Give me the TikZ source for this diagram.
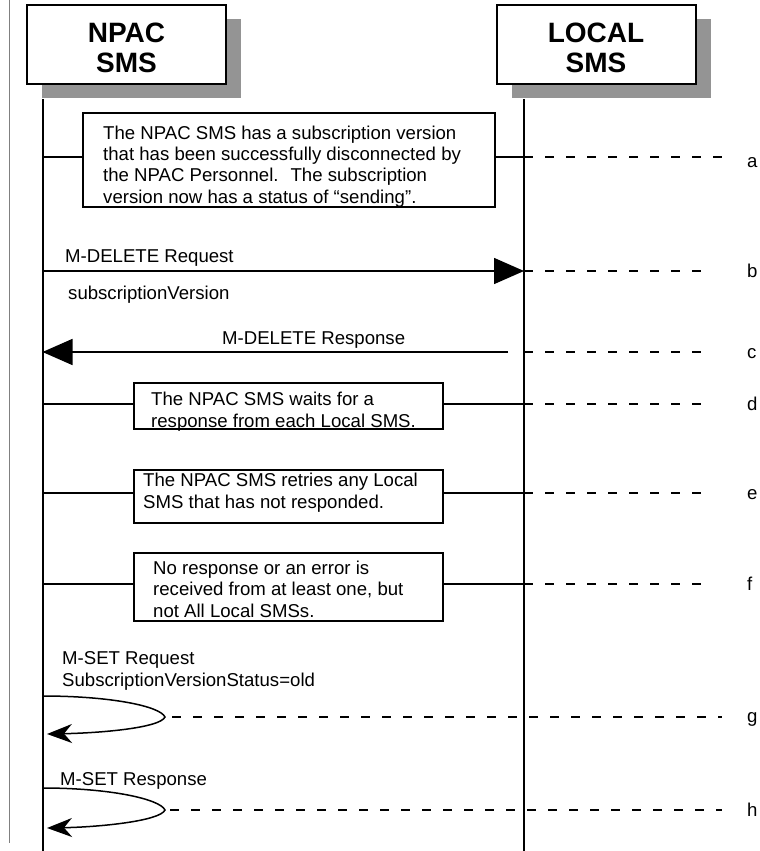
\documentclass[tikz,border=0pt]{standalone}
\usepackage{fontspec}
\setmainfont{Liberation Sans}
\usetikzlibrary{arrows.meta,shadows}
\begin{document}
\begin{tikzpicture}[x=1pt,y=-1pt,
 hdr/.style={draw,line width=2pt,fill=white,minimum width=199pt,minimum height=79pt,inner sep=0pt,
   drop shadow={shadow xshift=15pt,shadow yshift=-14pt,fill=black!42,draw=none,opacity=1}},
 hdrtxt/.style={font=\fontsize{28}{30}\selectfont\bfseries,align=center,inner sep=0pt},
 life/.style={line width=2pt},
 note/.style={draw,line width=1.5pt,inner sep=0pt},
 notetxt/.style={font=\fontsize{18.6}{21.3}\selectfont,align=left,inner sep=0pt,anchor=base west},
 lbl/.style={font=\fontsize{18.6}{21}\selectfont,inner sep=0pt,anchor=base west},
 conn/.style={line width=1.5pt},
 msg/.style={line width=1.5pt,-{Triangle[length=30pt,width=26pt]}},
 loop/.style={line width=1.5pt,-{Stealth[length=25pt,width=19pt,inset=8pt]}},
 tick/.style={line width=2pt,dash pattern=on 9pt off 12pt},
]
\useasboundingbox (0,0) rectangle (760,851);
\draw[black!50,line width=1pt] (9,0) -- (9,843);

% headers
\node[hdr] (npac) at (126.5,44.5) {};
\node[hdrtxt] (npactxt) at (126.5,47.5) {NPAC\\SMS};
\node[hdr] (local) at (596,44.5) {};
\node[hdrtxt] (localtxt) at (596,47.5) {LOCAL\\SMS};

% lifelines
\coordinate (npacTop) at (42.5,99);
\coordinate (npacBot) at (42.5,851);
\coordinate (localTop) at (524,99);
\coordinate (localBot) at (524,851);
\draw[life] (npacTop) -- (npacBot);
\draw[life] (localTop) -- (localBot);

% step a
\node[note,minimum width=412pt,minimum height=94pt] (na) at (289,160) {};
\node[notetxt] (ta) at (103,203) {The NPAC SMS has a subscription version\\that has been successfully disconnected by\\the NPAC Personnel.~ The subscription\\version now has a status of “sending”.};
\coordinate (ya) at (0,157);
\draw[conn] (npacTop |- ya) -- (na.west |- ya);
\draw[conn] (na.east |- ya) -- (localTop |- ya);
\coordinate (ea) at (722,157);
\draw[tick] (localTop |- ya) -- (ea);
\node[lbl] (la) at (747,167) {a};

% step b
\coordinate (yb) at (0,271);
\node[lbl] (mdr) at (65,262) {M-DELETE Request};
\node[lbl] (sv) at (68,299) {subscriptionVersion};
\draw[msg] (npacTop |- yb) -- (localTop |- yb);
\coordinate (eb) at (712,271);
\draw[tick] (localTop |- yb) -- (eb);
\node[lbl] (lb) at (747,277) {b};

% step c
\coordinate (cs) at (508,352);
\node[lbl] (mdresp) at (222,344) {M-DELETE Response};
\draw[msg] (cs) -- (npacTop |- cs);
\coordinate (ec) at (712,352);
\draw[tick] (localTop |- cs) -- (ec);
\node[lbl] (lc) at (747,358) {c};

% step d
\node[note,minimum width=309pt,minimum height=46pt] (nd) at (288.5,406) {};
\node[notetxt] (td) at (151,427) {The NPAC SMS waits for a\\response from each Local SMS.};
\coordinate (yd) at (0,404);
\draw[conn] (npacTop |- yd) -- (nd.west |- yd);
\draw[conn] (nd.east |- yd) -- (localTop |- yd);
\coordinate (ed) at (712,404);
\draw[tick] (localTop |- yd) -- (ed);
\node[lbl] (ld) at (747,410) {d};

% step e
\node[note,minimum width=309pt,minimum height=53pt] (ne) at (288.5,496.5) {};
\node[notetxt] (te) at (143,508) {The NPAC SMS retries any Local\\SMS that has not responded.};
\coordinate (ye) at (0,493);
\draw[conn] (npacTop |- ye) -- (ne.west |- ye);
\draw[conn] (ne.east |- ye) -- (localTop |- ye);
\coordinate (ee) at (712,493);
\draw[tick] (localTop |- ye) -- (ee);
\node[lbl] (le) at (747,499) {e};

% step f
\node[note,minimum width=309pt,minimum height=68pt] (nf) at (288.5,587) {};
\node[notetxt] (tf) at (153,617) {No response or an error is\\received from at least one, but\\not All Local SMSs.};
\coordinate (yf) at (0,584);
\draw[conn] (npacTop |- yf) -- (nf.west |- yf);
\draw[conn] (nf.east |- yf) -- (localTop |- yf);
\coordinate (ef) at (712,584);
\draw[tick] (localTop |- yf) -- (ef);
\node[lbl] (lf) at (747,590) {f};

% step g
\node[lbl] (msr) at (62,664) {M-SET Request};
\node[lbl] (svs) at (62,686) {SubscriptionVersionStatus=old};
\coordinate (gs) at (42.5,696);
\coordinate (gt) at (165,717);
\coordinate (ge) at (47,734);
\draw[loop] (gs) .. controls (110,696) and (160,706) .. (gt) .. controls (160,728) and (100,733) .. (ge);
\coordinate (eg) at (722,717);
\draw[tick] ([xshift=7pt]gt) -- (eg);
\node[lbl] (lg) at (747,722) {g};

% step h
\node[lbl] (msresp) at (60,785) {M-SET Response};
\coordinate (hs) at (42.5,788);
\coordinate (ht) at (165,810);
\coordinate (he) at (47,828);
\draw[loop] (hs) .. controls (110,788) and (160,799) .. (ht) .. controls (160,821) and (100,827) .. (he);
\coordinate (eh) at (722,810);
\draw[tick] ([xshift=5pt]ht) -- (eh);
\node[lbl] (lh) at (747,816) {h};
\end{tikzpicture}
\end{document}
